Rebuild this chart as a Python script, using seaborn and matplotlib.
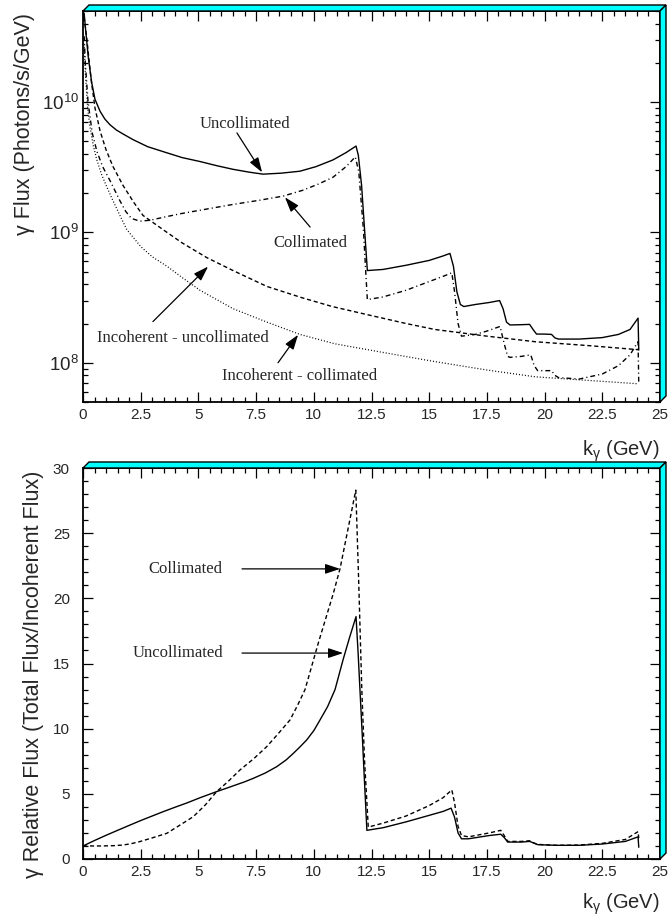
import numpy as np
import pandas as pd
import matplotlib
matplotlib.use("Agg")
import matplotlib.pyplot as plt
import seaborn as sns
from matplotlib.patches import Polygon
from matplotlib.ticker import MultipleLocator, LogLocator, FixedLocator, FuncFormatter, NullFormatter

# ---------------- data ----------------
# Top panel: photon flux (Photons/s/GeV) vs k_gamma (GeV)
unc_x = [0.05, 0.1, 0.23, 0.38, 0.52, 0.74, 0.95, 1.17, 1.45, 1.73, 2.17, 2.8, 3.6, 4.3,
         5.07, 5.8, 6.5, 7.2, 7.8, 8.6, 9.4, 10.1, 10.83, 11.4, 11.83, 11.93, 12.07, 12.2,
         12.32, 13.0, 14.0, 15.0, 15.6, 15.9, 16.05, 16.2, 16.35, 16.5, 17.0, 17.6, 18.05,
         18.2, 18.35, 18.5, 19.0, 19.35, 19.5, 19.65, 20.0, 20.3, 20.45, 20.6, 21.5, 22.5,
         23.2, 23.7, 24.05, 24.08]
unc_y = [4.8e10, 3.8e10, 2.2e10, 1.4e10, 1.05e10, 8.5e9, 7.4e9, 6.7e9, 6.1e9, 5.7e9, 5.15e9,
         4.55e9, 4.1e9, 3.75e9, 3.5e9, 3.25e9, 3.05e9, 2.9e9, 2.8e9, 2.85e9, 2.95e9, 3.2e9,
         3.6e9, 4.1e9, 4.6e9, 3.9e9, 2.3e9, 1.05e9, 5.1e8, 5.2e8, 5.6e8, 6.1e8, 6.6e8,
         6.9e8, 5.5e8, 3.5e8, 2.8e8, 2.7e8, 2.8e8, 2.9e8, 3.0e8, 2.6e8, 2.05e8, 1.95e8,
         1.96e8, 1.97e8, 1.8e8, 1.66e8, 1.66e8, 1.65e8, 1.55e8, 1.52e8, 1.52e8, 1.56e8,
         1.65e8, 1.8e8, 2.2e8, 1.25e8]

col_x = [0.05, 0.1, 0.22, 0.4, 0.6, 0.85, 1.17, 1.6, 1.85, 2.1, 2.47, 2.9, 3.6, 4.3, 5.07,
         5.8, 6.5, 7.6, 8.67, 9.5, 10.2, 10.83, 11.4, 11.8, 11.95, 12.15, 12.25, 12.32,
         13.0, 14.0, 15.0, 15.6, 15.98, 16.1, 16.25, 16.4, 17.0, 17.5, 18.07, 18.25, 18.4,
         18.5, 19.0, 19.4, 19.55, 19.7, 20.0, 20.3, 20.45, 20.6, 21.5, 22.5, 23.2, 23.7,
         24.05, 24.08]
col_y = [3.2e10, 2.0e10, 1.0e10, 5.8e9, 4.2e9, 3.2e9, 2.5e9, 1.75e9, 1.45e9, 1.28e9, 1.22e9,
         1.24e9, 1.32e9, 1.4e9, 1.48e9, 1.56e9, 1.64e9, 1.76e9, 1.9e9, 2.1e9, 2.35e9, 2.65e9,
         3.2e9, 3.8e9, 2.9e9, 1.05e9, 5.0e8, 3.05e8, 3.2e8, 3.6e8, 4.2e8, 4.6e8, 4.9e8,
         3.5e8, 2.0e8, 1.6e8, 1.65e8, 1.75e8, 1.9e8, 1.4e8, 1.12e8, 1.1e8, 1.12e8, 1.15e8,
         9.5e7, 8.7e7, 8.7e7, 8.7e7, 8.0e7, 7.7e7, 7.5e7, 8.2e7, 9.5e7, 1.15e8, 1.45e8, 6.9e7]

inc_unc_x = [0.05, 0.17, 0.35, 0.52, 0.74, 1.0, 1.3, 1.73, 2.2, 2.6, 3.47, 4.3, 5.37, 6.5,
             7.97, 9.5, 10.8, 12.5, 14.0, 15.25, 17.5, 19.6, 22.0, 24.05]
inc_unc_y = [4.5e10, 3.0e10, 1.5e10, 9.0e9, 6.0e9, 4.3e9, 3.2e9, 2.3e9, 1.7e9, 1.35e9, 1.05e9,
             8.3e8, 6.4e8, 5.1e8, 3.85e8, 3.15e8, 2.7e8, 2.3e8, 2.0e8, 1.8e8, 1.6e8, 1.45e8,
             1.35e8, 1.26e8]

inc_col_x = [0.05, 0.1, 0.2, 0.3, 0.45, 0.6, 0.8, 1.0, 1.3, 1.6, 1.9, 2.5, 3.0, 3.64, 4.3,
             5.07, 6.5, 7.97, 9.4, 10.9, 13.0, 15.25, 17.5, 19.6, 22.0, 24.05]
inc_col_y = [2.8e10, 1.7e10, 9.0e9, 6.5e9, 4.6e9, 3.6e9, 2.8e9, 2.3e9, 1.75e9, 1.35e9, 1.05e9,
             7.8e8, 6.5e8, 5.5e8, 4.5e8, 3.6e8, 2.6e8, 2.05e8, 1.65e8, 1.4e8, 1.2e8, 1.02e8,
             8.8e7, 7.8e7, 7.3e7, 6.9e7]

# Bottom panel: relative flux (total / incoherent)
rel_unc_x = [0.0, 0.5, 1.0, 1.5, 2.03, 2.5, 3.0, 3.5, 4.0, 4.5, 5.07, 5.5, 5.79, 6.2, 6.6,
             7.0, 7.38, 7.9, 8.39, 8.8, 9.11, 9.4, 9.69, 10.0, 10.27, 10.6, 10.92, 11.27,
             11.55, 11.83, 11.92, 12.0, 12.1, 12.2, 12.3, 13.0, 14.0, 15.0, 15.6, 15.95, 16.1,
             16.25, 16.4, 16.7, 17.6, 18.1, 18.25, 18.4, 19.0, 19.35, 19.5, 19.7, 20.5, 21.5,
             22.5, 23.5, 24.05, 24.08]
rel_unc_y = [1.0, 1.42, 1.82, 2.2, 2.6, 2.95, 3.3, 3.65, 3.98, 4.3, 4.7, 4.98, 5.17, 5.42,
             5.67, 5.92, 6.19, 6.6, 7.08, 7.6, 8.1, 8.6, 9.13, 9.85, 10.67, 11.7, 13.0, 15.3,
             17.0, 18.6, 15.8, 13.0, 9.5, 5.8, 2.2, 2.4, 2.85, 3.35, 3.65, 3.9, 3.2, 2.0, 1.55,
             1.55, 1.8, 1.9, 1.65, 1.3, 1.3, 1.35, 1.25, 1.1, 1.05, 1.05, 1.15, 1.35, 1.7, 0.9]

rel_col_x = [0.0, 0.8, 1.3, 1.73, 2.1, 2.45, 3.0, 3.63, 4.2, 4.78, 5.3, 5.79, 6.3, 6.8, 7.4,
             7.96, 8.45, 8.97, 9.3, 9.62, 10.2, 10.85, 11.14, 11.48, 11.82, 11.95, 12.08, 12.2,
             12.36, 13.0, 14.0, 15.0, 15.6, 15.98, 16.1, 16.25, 16.4, 16.7, 17.6, 18.1, 18.25,
             18.4, 19.0, 19.35, 19.5, 19.7, 20.5, 21.5, 22.5, 23.5, 24.05, 24.08]
rel_col_y = [1.0, 1.0, 1.02, 1.07, 1.18, 1.33, 1.62, 1.97, 2.6, 3.25, 4.15, 5.17, 5.97, 6.83,
             7.7, 8.62, 9.6, 10.67, 11.8, 13.0, 16.6, 20.4, 22.3, 25.3, 28.3, 21.0, 13.0, 7.5,
             2.45, 2.75, 3.3, 4.1, 4.7, 5.3, 4.3, 2.5, 1.8, 1.7, 2.0, 2.2, 1.8, 1.35, 1.35, 1.4,
             1.25, 1.12, 1.05, 1.07, 1.2, 1.5, 2.1, 1.6]

x_ticks = [0, 2.5, 5, 7.5, 10, 12.5, 15, 17.5, 20, 22.5, 25]
top_yticks = [1e8, 1e9, 1e10]
top_ytick_labels = ["$10^{8}$", "$10^{9}$", "$10^{10}$"]
bot_yticks = [0, 5, 10, 15, 20, 25, 30]

# ---------------- style ----------------
sns.set_style("ticks")
plt.rcParams['font.family'] = ['Liberation Sans', 'DejaVu Sans']
plt.rcParams['mathtext.fontset'] = 'custom'
plt.rcParams['mathtext.rm'] = 'Liberation Sans'
plt.rcParams['mathtext.it'] = 'Liberation Sans:italic'
plt.rcParams['mathtext.default'] = 'regular'
SERIF = ['Liberation Serif', 'DejaVu Serif']

W, H = 670, 917
fig = plt.figure(figsize=(W / 100, H / 100), dpi=100)


def axes_px(l, t, r, b):
    return fig.add_axes([l / W, 1 - b / H, (r - l) / W, (b - t) / H])


def frame3d(l, t, r, b, d=6):
    top = [(l, t), (r, t), (r + d, t - d), (l + d, t - d)]
    right = [(r, t), (r, b), (r + d, b - d), (r + d, t - d)]
    for pts in (top, right):
        fig.add_artist(Polygon([(x / W, 1 - y / H) for x, y in pts], closed=True,
                               transform=fig.transFigure, facecolor='#00ffff',
                               edgecolor='black', lw=1.0, zorder=5))


def draw(ax, x, y, **kw):
    df = pd.DataFrame({'k': x, 'v': y})
    sns.lineplot(data=df, x='k', y='v', ax=ax, estimator=None, sort=False,
                 color='black', **kw)


def style_axes(ax):
    for s in ax.spines.values():
        s.set_linewidth(1.3)
        s.set_color('black')
    ax.set_xlim(0, 25)
    ax.xaxis.set_major_locator(FixedLocator(x_ticks))
    ax.xaxis.set_minor_locator(MultipleLocator(0.5))
    ax.xaxis.set_major_formatter(FuncFormatter(lambda v, p: f"{v:g}"))
    ax.tick_params(which='both', direction='in', top=True, right=True, width=0.9,
                   labelsize=11, color='black')
    ax.tick_params(which='major', length=7, pad=4)
    ax.tick_params(which='minor', length=3.5)


arrow = dict(arrowstyle='-|>,head_length=0.9,head_width=0.3', color='black', lw=0.9,
             shrinkA=0, shrinkB=0)
ANN = dict(fontsize=12, family=SERIF, ha='center', va='center')

# ---------------- top panel ----------------
ax1 = axes_px(83, 11, 660, 402)
ax1.set_yscale('log')
draw(ax1, unc_x, unc_y, lw=1.0, linestyle='-')
draw(ax1, col_x, col_y, lw=1.0, linestyle=(0, (3.5, 2.2, 0.8, 2.2)))
draw(ax1, inc_unc_x, inc_unc_y, lw=1.0, linestyle=(0, (3, 2)))
draw(ax1, inc_col_x, inc_col_y, lw=0.9, linestyle=(0, (0.8, 1.6)))
style_axes(ax1)
ax1.set_ylim(5e7, 5e10)
ax1.yaxis.set_major_locator(FixedLocator(top_yticks))
ax1.yaxis.set_major_formatter(FuncFormatter(
    lambda v, p: top_ytick_labels[top_yticks.index(v)] if v in top_yticks else ""))
ax1.yaxis.set_minor_locator(LogLocator(base=10, subs=np.arange(2, 10)))
ax1.yaxis.set_minor_formatter(NullFormatter())
ax1.tick_params(axis='y', which='major', labelsize=13.5, pad=3)
ax1.set_xlabel(r"k$_\gamma$ (GeV)", fontsize=14.5, loc='right', labelpad=12)
ax1.set_ylabel("γ Flux (Photons/s/GeV)", fontsize=15.5, loc='top')
ax1.yaxis.set_label_coords(-0.083, 0.995)

ax1.text(7.02, 6.8e9, "Uncollimated", **ANN)
ax1.annotate("", xy=(7.76, 2.89e9), xytext=(6.67, 5.8e9), arrowprops=arrow)
ax1.text(9.84, 8.3e8, "Collimated", **ANN)
ax1.annotate("", xy=(8.75, 1.86e9), xytext=(9.84, 1.1e9), arrowprops=arrow)
ax1.text(4.31, 1.55e8, "Incoherent - uncollimated", **ANN)
ax1.annotate("", xy=(5.42, 5.47e8), xytext=(3.03, 2.07e8), arrowprops=arrow)
ax1.text(9.38, 7.9e7, "Incoherent - collimated", **ANN)
ax1.annotate("", xy=(9.32, 1.64e8), xytext=(8.45, 1.0e8), arrowprops=arrow)
frame3d(83, 11, 660, 402)

# ---------------- bottom panel ----------------
ax2 = axes_px(83, 468, 660, 859)
draw(ax2, rel_unc_x, rel_unc_y, lw=1.0, linestyle='-')
draw(ax2, rel_col_x, rel_col_y, lw=1.0, linestyle=(0, (3, 2)))
style_axes(ax2)
ax2.set_ylim(0, 30)
ax2.yaxis.set_major_locator(FixedLocator(bot_yticks))
ax2.yaxis.set_minor_locator(MultipleLocator(1))
ax2.tick_params(axis='y', which='major', labelsize=11, pad=9.5)
ax2.set_xlabel(r"k$_\gamma$ (GeV)", fontsize=14.5, loc='right', labelpad=9)
ax2.set_ylabel("γ Relative Flux (Total Flux/Incoherent Flux)", fontsize=15.5, loc='top')
ax2.yaxis.set_label_coords(-0.068, 0.993)

ax2.text(4.42, 22.26, "Collimated", **ANN)
ax2.annotate("", xy=(11.14, 22.26), xytext=(6.89, 22.26), arrowprops=arrow)
ax2.text(4.12, 15.8, "Uncollimated", **ANN)
ax2.annotate("", xy=(11.27, 15.8), xytext=(6.89, 15.8), arrowprops=arrow)
frame3d(83, 468, 660, 859)

fig.savefig("out.png", dpi=100)
